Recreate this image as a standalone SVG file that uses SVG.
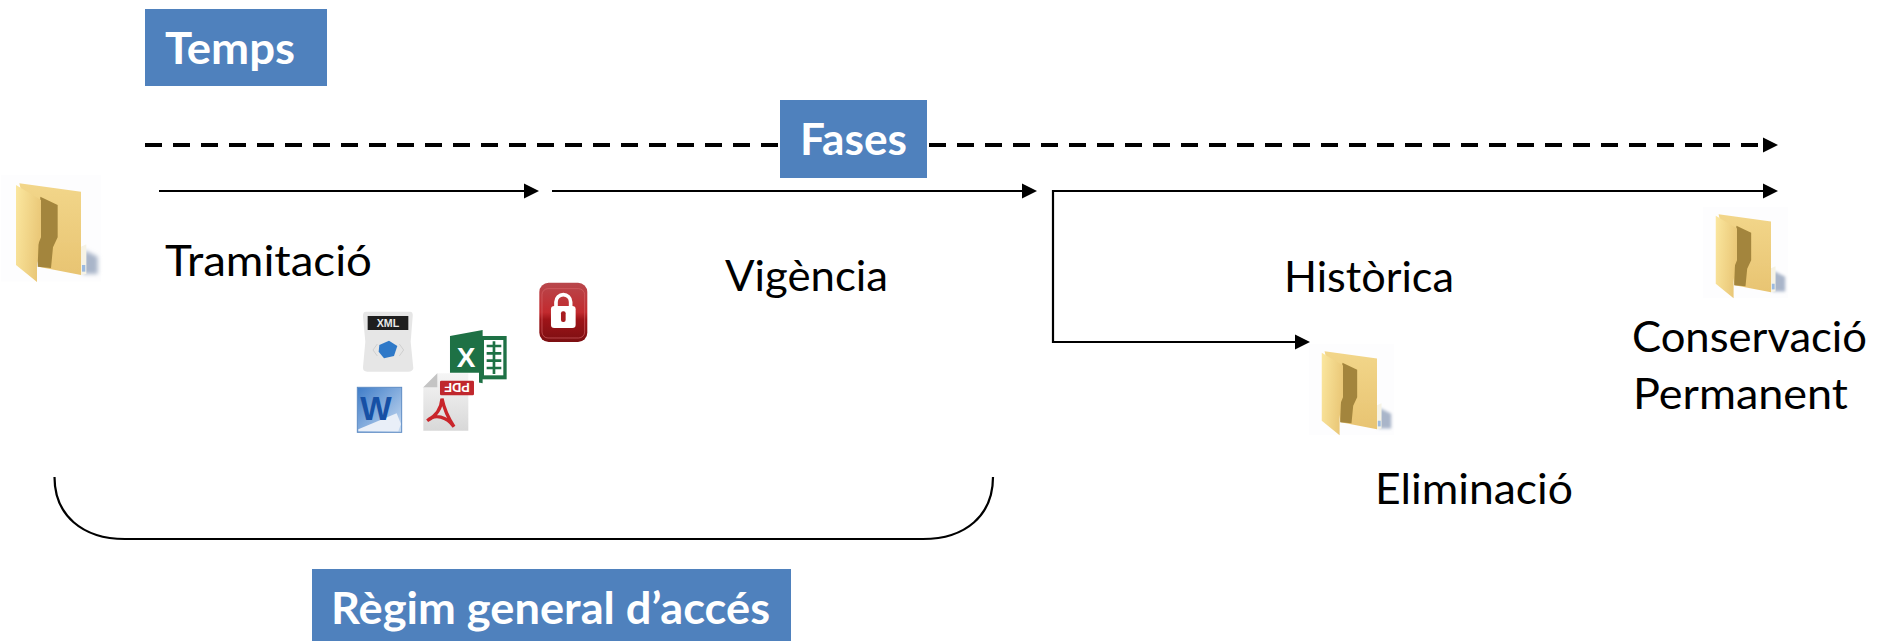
<svg xmlns="http://www.w3.org/2000/svg" xmlns:xlink="http://www.w3.org/1999/xlink" width="1885" height="641" viewBox="0 0 1885 641">
<style>
.lbl{font-family:"Lato","Carlito","Liberation Sans",sans-serif;font-size:43px;fill:#000}
.tag{font-family:"Lato","Carlito","Liberation Sans",sans-serif;font-size:43px;font-weight:700;fill:#fff}
.box{fill:#4F81BD}
.ln{fill:none;stroke:#000;stroke-width:2.2}
.ic{font-family:"Liberation Sans",sans-serif;font-weight:700}
</style>
<defs>
<marker id="arrow" markerUnits="userSpaceOnUse" markerWidth="15" markerHeight="16" refX="0" refY="8" orient="auto"><path d="M0,0.5 L15,8 L0,15.5Z" fill="#000"/></marker>
<linearGradient id="flap" x1="0" y1="0" x2="1" y2="0.3"><stop offset="0" stop-color="#FBE79F"/><stop offset="1" stop-color="#EAC878"/></linearGradient>
<linearGradient id="back" x1="0" y1="0" x2="0" y2="1"><stop offset="0" stop-color="#F2D68A"/><stop offset="1" stop-color="#E8C472"/></linearGradient>
<linearGradient id="lockg" x1="0" y1="0" x2="0" y2="1"><stop offset="0" stop-color="#B8474C"/><stop offset="0.5" stop-color="#C22A2E"/><stop offset="0.62" stop-color="#9E1418"/><stop offset="1" stop-color="#7C0F12"/></linearGradient>
<linearGradient id="wordg" x1="0" y1="0" x2="1" y2="1"><stop offset="0" stop-color="#3E7CC8"/><stop offset="1" stop-color="#C9DCF2"/></linearGradient>
<linearGradient id="pdfg" x1="0" y1="0" x2="0" y2="1"><stop offset="0" stop-color="#F5F5F5"/><stop offset="1" stop-color="#D8D8D8"/></linearGradient>
<filter id="soft" x="-30%" y="-30%" width="160%" height="160%"><feGaussianBlur stdDeviation="6"/></filter>
<filter id="tiny" x="-10%" y="-10%" width="120%" height="120%"><feGaussianBlur stdDeviation="1.5"/></filter>
<g id="folder">
<rect x="0" y="75" width="300" height="320" fill="#FDFDFE"/>
<path d="M250,300 L290,320 L290,372 L245,372Z" fill="#A9B5C9" filter="url(#soft)"/>
<g filter="url(#tiny)">
<path d="M240,290 L256,283 L256,372 L240,375Z" fill="#F6F3E6"/>
<rect x="243" y="345" width="10" height="20" fill="#9DBBE0"/>
<path d="M55,100 L240,125 L240,375 L112,350Z" fill="url(#back)"/>
<path d="M118,140 L170,165 L170,262 L156,292 L150,354 L110,350Z" fill="#A3853C"/>
<path d="M45,105 L120,150 L120,262 L108,292 L108,396 L45,345Z" fill="url(#flap)"/>
</g>
</g>
</defs>
<rect width="1885" height="641" fill="#fff"/>
<g id="connectors">
<line class="ln" x1="145" y1="145" x2="1763" y2="145" stroke-dasharray="17 11" style="stroke-width:4" marker-end="url(#arrow)"/>
<line class="ln" x1="159" y1="191" x2="524" y2="191" marker-end="url(#arrow)"/>
<line class="ln" x1="552" y1="191" x2="1022" y2="191" marker-end="url(#arrow)"/>
<path class="ln" d="M1763,191 H1053 V342 H1295" marker-end="url(#arrow)"/>
<path d="M1763,183.500 L1778,191 L1763,198.500Z" fill="#000"/>
<path class="ln" d="M54.500,477 C54.500,515 82,539 125,539 H923 C966,539 993,515 993,477"/>
</g>
<g id="node-temps"><rect class="box" x="145" y="9" width="182" height="77"/><text class="tag" x="165" y="64" textLength="130" lengthAdjust="spacingAndGlyphs">Temps</text></g>
<g id="node-fases"><rect class="box" x="780" y="100" width="147" height="78"/><text class="tag" x="800" y="155" textLength="107" lengthAdjust="spacingAndGlyphs">Fases</text></g>
<g id="node-regim"><rect class="box" x="312" y="569" width="479" height="72"/><text class="tag" x="331" y="624" textLength="439" lengthAdjust="spacingAndGlyphs">Règim general d’accés</text></g>
<g id="node-folder-start"><use xlink:href="#folder" href="#folder" transform="translate(1,150) scale(0.3333)"/></g>
<g id="node-folder-conservacio"><use xlink:href="#folder" href="#folder" transform="translate(1703,186) scale(0.2833)"/></g>
<g id="node-folder-eliminacio"><use xlink:href="#folder" href="#folder" transform="translate(1309,323) scale(0.2833)"/></g>
<g id="node-tramitacio"><text class="lbl" x="165" y="276" textLength="207" lengthAdjust="spacingAndGlyphs">Tramitació</text></g>
<g id="node-vigencia"><text class="lbl" x="725" y="291" textLength="163" lengthAdjust="spacingAndGlyphs">Vigència</text></g>
<g id="node-historica"><text class="lbl" x="1284" y="292" textLength="170" lengthAdjust="spacingAndGlyphs">Històrica</text></g>
<g id="node-conservacio"><text class="lbl" x="1632" y="352" textLength="235" lengthAdjust="spacingAndGlyphs">Conservació</text><text class="lbl" x="1633" y="409" textLength="215" lengthAdjust="spacingAndGlyphs">Permanent</text></g>
<g id="node-eliminacio"><text class="lbl" x="1375" y="504" textLength="198" lengthAdjust="spacingAndGlyphs">Eliminació</text></g>
<g id="node-icons" transform="translate(340,270) scale(0.3333)">
<g id="icon-xml">
<path d="M78,125 H210 Q220,125 218,140 L212,215 L220,295 Q218,305 205,305 H82 Q68,305 69,292 L76,215 L69,140 Q68,125 78,125Z" fill="#E6E6E6"/>
<rect x="83" y="138" width="122" height="42" fill="#1E1E1E"/>
<text class="ic" x="144" y="172" font-size="32" fill="#E8E8E8" text-anchor="middle">XML</text>
<path d="M118,225 L147,212 L172,228 L162,258 L132,265 L116,245Z" fill="#2F79C8"/>
<path d="M112,222 L99,240 L112,258 M178,222 L191,240 L178,258" fill="none" stroke="#CFCFCF" stroke-width="3"/>
</g>
<g id="icon-excel">
<rect x="420" y="198" width="80" height="130" fill="#1E7145"/>
<path d="M432,210 H490 V316 H432Z" fill="#fff"/>
<path d="M440,228 H484 M440,250 H484 M440,272 H484 M440,294 H484 M462,214 V312" stroke="#1E7145" stroke-width="8" fill="none"/>
<path d="M330,198 L428,180 V340 L330,322Z" fill="#1E7145"/>
<text class="ic" x="378" y="290" font-size="84" fill="#fff" text-anchor="middle">X</text>
</g>
<g id="icon-pdf">
<path d="M290,308 H417 V485 H248 V350Z" fill="#fff"/>
<path d="M292,310 H385 V482 H250 V352Z" fill="url(#pdfg)"/>
<path d="M250,352 H292 V310Z" fill="#C4C4C4"/>
<rect x="300" y="332" width="102" height="44" rx="4" fill="#C0272D"/>
<text class="ic" transform="rotate(180 351 354)" x="351" y="368" font-size="38" fill="#fff" text-anchor="middle">PDF</text>
<path d="M306,386 C304,415 288,438 262,452 C285,430 320,440 342,470 C325,445 313,420 306,386Z" fill="none" stroke="#C9252B" stroke-width="10"/>
</g>
<g id="icon-word">
<rect x="52" y="352" width="133" height="135" fill="url(#wordg)" stroke="#5E8CC4" stroke-width="3"/>
<path d="M55,478 L170,430 L183,462 L175,484 H55Z" fill="#E9EFF8"/>
<text class="ic" x="108" y="450" font-size="100" fill="#1650A5" text-anchor="middle">W</text>
</g>
<g id="icon-lock">
<rect x="598" y="38" width="144" height="178" rx="28" fill="url(#lockg)"/>
<rect x="606" y="56" width="128" height="148" rx="18" fill="none" stroke="#D9686C" stroke-opacity="0.6" stroke-width="3"/>
<path d="M648,112 V96 a22,22 0 0 1 44,0 V112" fill="none" stroke="#fff" stroke-width="11"/>
<rect x="633" y="108" width="74" height="66" rx="10" fill="#fff"/>
<rect x="663" y="124" width="14" height="32" rx="6" fill="#A81C20"/>
</g>
</g>
</svg>
